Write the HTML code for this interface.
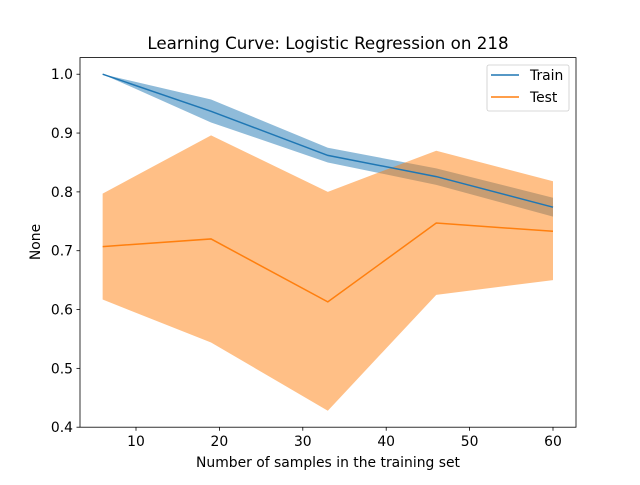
<!DOCTYPE html>
<html><head><meta charset="utf-8"><style>
body{margin:0;background:#fff}
svg text{font-family:"DejaVu Sans","Liberation Sans",sans-serif;fill:#000}
</style></head><body>
<svg id="c" width="640" height="480" viewBox="0 0 640 480">
<rect width="640" height="480" fill="#fff"/>
<text x="328" y="49" font-size="16.7" text-anchor="middle">Learning Curve: Logistic Regression on 218</text>
<g id="plot"></g>
<rect x="80" y="57.6" width="496" height="369.6" fill="none" stroke="#000" stroke-width="0.8"/>
<g id="ticks"></g>
<text x="328" y="467" font-size="13.9" text-anchor="middle">Number of samples in the training set</text>
<text transform="translate(40,242) rotate(-90)" font-size="13.9" text-anchor="middle">None</text>
<g>
<rect x="487" y="65" width="82" height="46" rx="2" fill="#fff" fill-opacity="0.8" stroke="#ccc" stroke-width="0.8"/>
<line x1="491" y1="75" x2="519" y2="75" stroke="#1f77b4" stroke-width="1.5"/>
<text x="530" y="80" font-size="13.9">Train</text>
<line x1="491" y1="97" x2="519" y2="97" stroke="#ff7f0e" stroke-width="1.5"/>
<text x="530" y="102" font-size="13.9">Test</text>
</g>
</svg>
<script>
const sizes=[6,19,33,46,60];
const trainMean=[1.0,0.937,0.862,0.826,0.774];
const trainUpper=[1.0,0.957,0.875,0.840,0.790];
const trainLower=[1.0,0.918,0.850,0.812,0.758];
const testMean=[0.707,0.720,0.613,0.747,0.733];
const testUpper=[0.797,0.896,0.800,0.870,0.818];
const testLower=[0.617,0.544,0.428,0.625,0.650];
const xTicks=[10,20,30,40,50,60];
const yTicks=[0.4,0.5,0.6,0.7,0.8,0.9,1.0];
const NS="http://www.w3.org/2000/svg";
function X(v){return 136+(v-10)*8.34;}
function Y(v){return 427.2-(v-0.4)*588.3;}
const plot=document.getElementById('plot');
function mk(t,a){const e=document.createElementNS(NS,t);for(const k in a)e.setAttribute(k,a[k]);return e;}
function band(up,lo,col,name){
  let pts=sizes.map((s,i)=>X(s)+','+Y(up[i]));
  for(let i=sizes.length-1;i>=0;i--)pts.push(X(sizes[i])+','+Y(lo[i]));
  const p=mk('polygon',{points:pts.join(' '),fill:col,'fill-opacity':0.5});
  
  
  plot.appendChild(p);
}
function line(m,col,name){
  const p=mk('polyline',{points:sizes.map((s,i)=>X(s)+','+Y(m[i])).join(' '),fill:'none',stroke:col,'stroke-width':1.5});
  
  
  plot.appendChild(p);
}
band(trainUpper,trainLower,'#1f77b4','train-band');
band(testUpper,testLower,'#ff7f0e','test-band');
line(trainMean,'#1f77b4','train-line');
line(testMean,'#ff7f0e','test-line');
const tg=document.getElementById('ticks');
xTicks.forEach(v=>{
  const l=mk('line',{x1:X(v),x2:X(v),y1:427.2,y2:430.7,stroke:'#000','stroke-width':0.8});
  
  
  tg.appendChild(l);
  const t=mk('text',{x:X(v),y:446,'font-size':13.9,'text-anchor':'middle'});
  t.textContent=v;
  
  
  tg.appendChild(t);
});
yTicks.forEach(v=>{
  const l=mk('line',{x1:76.5,x2:80,y1:Y(v),y2:Y(v),stroke:'#000','stroke-width':0.8});
  
  
  tg.appendChild(l);
  const t=mk('text',{x:73,y:Y(v)+5,'font-size':13.9,'text-anchor':'end'});
  t.textContent=v.toFixed(1);
  
  
  tg.appendChild(t);
});
</script>
</body></html>
